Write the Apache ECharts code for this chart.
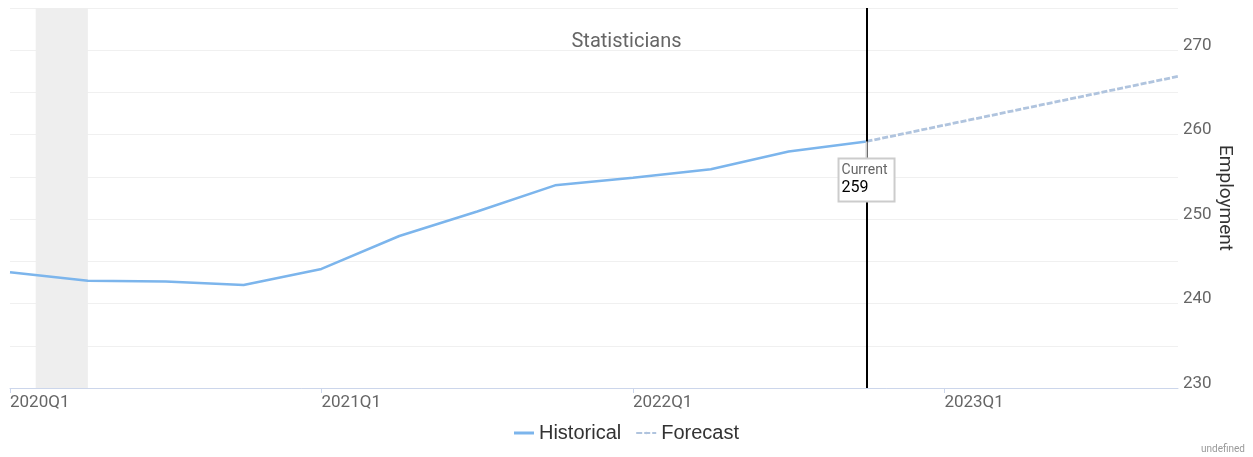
<!DOCTYPE html>
<html>
<head>
<meta charset="utf-8">
<script src="https://cdn.jsdelivr.net/npm/echarts@6/dist/echarts.min.js"></script>
<style>
html,body{margin:0;padding:0;background:#fff;}
#c{width:1253px;height:457px;position:relative;}
#u{position:absolute;right:8px;bottom:3px;font:10px Roboto,sans-serif;color:#999;}
</style>
</head>
<body>
<div id="c"></div>
<div id="u">undefined</div>
<script>
const quarters = ['2020Q1','2020Q2','2020Q3','2020Q4','2021Q1','2021Q2','2021Q3','2021Q4','2022Q1','2022Q2','2022Q3','2022Q4','2023Q1','2023Q2','2023Q3','2023Q4'];
const historicalQuarters = ['2020Q1','2020Q2','2020Q3','2020Q4','2021Q1','2021Q2','2021Q3','2021Q4','2022Q1','2022Q2','2022Q3','2022Q4'];
const historicalValues = [243.7,242.7,242.6,242.2,244.1,248.0,250.9,254.0,254.9,255.9,258.0,259.2];
const forecastQuarters = ['2022Q4','2023Q4'];
const forecastValues = [259.2,266.9];
const currentQuarter = '2022Q4';
const currentValue = 259;
const recessionStart = 0.33; // in quarter index units (Feb 2020)
const recessionEnd = 1.0;
const yTicks = [230,240,250,260,270];

const idx = q => quarters.indexOf(q);
const hist = historicalQuarters.map((q,i)=>[idx(q), historicalValues[i]]);
const fc = forecastQuarters.map((q,i)=>[idx(q), forecastValues[i]]);

const chart = echarts.init(document.getElementById('c'));
chart.setOption({
  animation:false,
  textStyle:{fontFamily:'Roboto, sans-serif'},
  title:{text:'Statisticians',left:'center',top:27,textStyle:{fontSize:20,fontWeight:'normal',color:'#666'}},
  grid:{left:10,right:75,top:8,bottom:69},
  legend:{bottom:9,left:'center',itemWidth:20,itemHeight:3,itemGap:14,
    textStyle:{fontSize:20,color:'#333',fontFamily:'Liberation Sans, Arial, sans-serif'},
    data:[{name:'Historical',icon:'rect'},{name:'Forecast'}]},
  xAxis:{type:'value',min:0,max:15,interval:4,
    axisLine:{show:true,lineStyle:{color:'#ccd6eb'}},
    axisTick:{show:true,length:5,lineStyle:{color:'#ccd6eb'}},
    splitLine:{show:false},
    axisLabel:{showMaxLabel:false,align:'left',margin:6,fontSize:17,color:'#666',
      formatter:v=>quarters[v]||''}},
  yAxis:{type:'value',position:'right',min:230,max:275,interval:5,
    name:'Employment',nameLocation:'middle',nameRotate:-90,nameGap:37,nameMoveOverlap:false,
    nameTextStyle:{fontSize:19,color:'#333'},
    axisLine:{show:false},axisTick:{show:false},
    splitLine:{lineStyle:{color:'#f0f0f0'}},
    axisLabel:{margin:5,fontSize:17,color:'#666',verticalAlign:'bottom',lineHeight:9,
      formatter:v=>yTicks.includes(v)?String(v):''}},
  series:[
    {name:'Historical',type:'line',data:hist,symbol:'none',
      lineStyle:{color:'#7cb5ec',width:2.5},itemStyle:{color:'#7cb5ec'},z:3,
      markArea:{silent:true,itemStyle:{color:'#eeeeee'},data:[[{xAxis:recessionStart},{xAxis:recessionEnd}]]},
      markLine:{silent:true,symbol:'none',label:{show:false},
        lineStyle:{color:'#000',width:2,type:'solid'},
        data:[{xAxis:idx(currentQuarter)}]},
      markPoint:{silent:true,symbol:'rect',symbolSize:[2,18],symbolOffset:[0,9],
        itemStyle:{color:'#cccccc'},
        label:{show:true,position:'bottom',distance:0,align:'center',
          backgroundColor:'#fff',borderColor:'#cccccc',borderWidth:2,padding:[3,2,3,2],width:50,
          formatter:'{a|Current}\n{b|'+currentValue+'}',
          rich:{a:{fontSize:14,color:'#666',lineHeight:17,align:'left',width:50},b:{fontSize:16,color:'#000',lineHeight:18,align:'left',width:50}}},
        data:[{coord:[idx(currentQuarter),historicalValues[historicalValues.length-1]]}]}
    },
    {name:'Forecast',type:'line',data:fc,symbol:'none',
      lineStyle:{color:'#b0c4de',width:2.8,type:[6,2]},itemStyle:{color:'#b0c4de'},z:3}
  ]
});
</script>
</body>
</html>
